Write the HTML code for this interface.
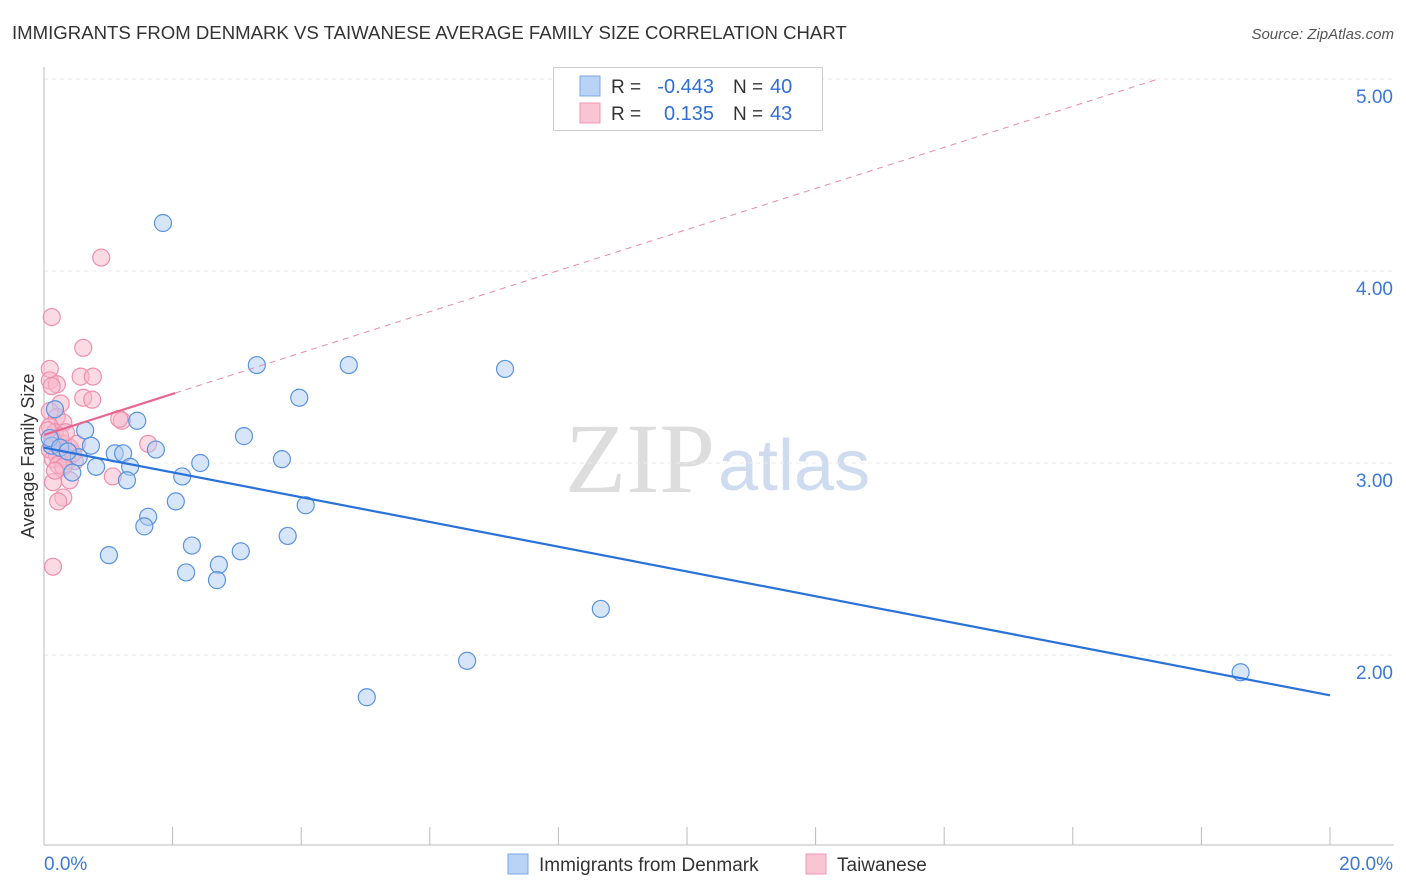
<!DOCTYPE html>
<html><head><meta charset="utf-8"><style>
body{margin:0;background:#fff;font-family:"Liberation Sans",sans-serif;}
svg{display:block}
</style></head><body>
<svg id="c" width="1406" height="892" xmlns="http://www.w3.org/2000/svg">
<text x="12" y="39" font-size="18.6" fill="#333">IMMIGRANTS FROM DENMARK VS TAIWANESE AVERAGE FAMILY SIZE CORRELATION CHART</text>
<text x="1394" y="39" font-size="15" fill="#555" font-style="italic" text-anchor="end">Source: ZipAtlas.com</text>
<text x="715" y="492" font-size="100" fill="#ddd" text-anchor="end" font-family="Liberation Serif">ZIP</text>
<text x="718" y="490" font-size="72" fill="#cfdcef">atlas</text>
<text transform="translate(34,456) rotate(-90)" font-size="18" fill="#333" text-anchor="middle">Average Family Size</text>
<g id="grid"></g><g id="marks"></g>
<g>
<rect x="553.5" y="67.5" width="269" height="63" fill="#fff" stroke="#ccc"/>
<rect x="580" y="76" width="20" height="20" fill="#b8d3f5" stroke="#7aa8e6"/>
<rect x="580" y="103" width="20" height="20" fill="#f9c4d4" stroke="#ef99b4"/>
<text x="611" y="93" font-size="19" fill="#333">R =</text>
<text x="714" y="93" font-size="20" fill="#2f6fd6" text-anchor="end">-0.443</text>
<text x="733" y="93" font-size="19" fill="#333">N =</text>
<text x="770" y="93" font-size="20" fill="#2f6fd6">40</text>
<text x="611" y="120" font-size="19" fill="#333">R =</text>
<text x="714" y="120" font-size="20" fill="#2f6fd6" text-anchor="end">0.135</text>
<text x="733" y="120" font-size="19" fill="#333">N =</text>
<text x="770" y="120" font-size="20" fill="#2f6fd6">43</text>
</g>
<g>
<rect x="508" y="854" width="20" height="20" fill="#b8d3f5" stroke="#7aa8e6"/>
<text x="539" y="871" font-size="19" fill="#333">Immigrants from Denmark</text>
<rect x="806" y="854" width="20" height="20" fill="#f9c4d4" stroke="#ef99b4"/>
<text x="837" y="871" font-size="19" fill="#333">Taiwanese</text>
</g>
<text x="44" y="870" font-size="19" fill="#3b78d8">0.0%</text>
<text x="1393" y="870" font-size="19" fill="#3b78d8" text-anchor="end">20.0%</text>
</svg>
<script>
const yTicks=[2,3,4,5];
const yTickLabels=["2.00","3.00","4.00","5.00"];
const blueX=[1.85,3.31,4.74,7.17,3.97,1.45,3.11,0.64,0.73,1.74,1.10,1.23,0.12,0.54,2.43,3.70,0.81,1.34,0.44,2.15,1.29,2.05,1.62,1.56,4.07,3.79,1.01,2.30,3.06,2.72,2.21,2.69,8.66,6.58,5.02,18.61,0.17,0.09,0.25,0.37];
const blueY=[4.25,3.51,3.51,3.49,3.34,3.22,3.14,3.17,3.09,3.07,3.05,3.05,3.09,3.03,3.00,3.02,2.98,2.98,2.95,2.93,2.91,2.80,2.72,2.67,2.78,2.62,2.52,2.57,2.54,2.47,2.43,2.39,2.24,1.97,1.78,1.91,3.28,3.13,3.08,3.06];
const pinkX=[0.89,0.12,0.61,0.09,0.57,0.76,0.09,0.20,0.12,0.61,0.75,0.26,1.21,1.62,0.09,0.20,0.30,0.09,0.17,0.25,0.14,0.30,0.40,0.09,0.20,0.28,0.14,0.36,0.48,0.22,0.30,1.07,0.40,0.14,0.30,0.22,0.14,0.45,0.51,1.17,0.17,0.06,0.34];
const pinkY=[4.07,3.76,3.60,3.49,3.45,3.45,3.43,3.41,3.40,3.34,3.33,3.31,3.22,3.10,3.27,3.24,3.21,3.19,3.16,3.14,3.12,3.10,3.08,3.07,3.04,3.03,3.02,3.01,3.01,2.99,2.98,2.93,2.91,2.90,2.82,2.80,2.46,3.05,3.10,3.23,2.96,3.17,3.16];
const blueTrend=[3.08,1.79];
const pinkTrend=[3.146,0.107];
const sx=v=>44+v*1286/20, sy=v=>79+(5-v)*192;
const NS="http://www.w3.org/2000/svg";
function mk(t,a,p){const e=document.createElementNS(NS,t);for(const k in a)e.setAttribute(k,a[k]);p.appendChild(e);return e;}
const g=document.getElementById('grid'), m=document.getElementById('marks');
yTicks.forEach((t,i)=>{
 const l=mk('line',{x1:44,x2:1394,y1:sy(t),y2:sy(t),stroke:'#ebebeb','stroke-dasharray':'4,4'},g);
 
 
 const tx=mk('text',{x:1393,y:sy(t)+24,'font-size':19,fill:'#3b78d8','text-anchor':'end'},g);
 tx.textContent=yTickLabels[i];
 
 
});
const ax=mk('line',{x1:44,x2:44,y1:67,y2:845,stroke:'#bbb'},g);


const bx=mk('line',{x1:44,x2:1394,y1:845,y2:845,stroke:'#bbb'},g);


for(let i=1;i<=10;i++){const t=mk('line',{x1:sx(i*2),x2:sx(i*2),y1:827,y2:845,stroke:'#bbb'},g);
 
 }
function dots(X,Y,fill,stroke,name){X.forEach((x,i)=>{const c=mk('circle',{cx:sx(x),cy:sy(Y[i]),r:8.5,fill:fill,'fill-opacity':0.5,stroke:stroke,'stroke-width':1.2},m);
 
 });}
dots(pinkX,pinkY,'#f7b6ca','#ee8fae','taiwanese-point');
dots(blueX,blueY,'#aecbf1','#5a93e0','denmark-point');
const bl=mk('line',{x1:sx(0),y1:sy(blueTrend[0]),x2:sx(20),y2:sy(blueTrend[1]),stroke:'#2a72d8','stroke-width':2.2},m);


const xe=(5-pinkTrend[0])/pinkTrend[1];
const pd=mk('line',{x1:sx(2.04),y1:sy(pinkTrend[0]+2.04*pinkTrend[1]),x2:sx(xe),y2:sy(5),stroke:'#e88aa8','stroke-width':1,'stroke-dasharray':'6,5'},m);


const pl=mk('line',{x1:sx(0),y1:sy(pinkTrend[0]),x2:sx(2.04),y2:sy(pinkTrend[0]+2.04*pinkTrend[1]),stroke:'#e8668f','stroke-width':2.2},m);


</script>
</body></html>
